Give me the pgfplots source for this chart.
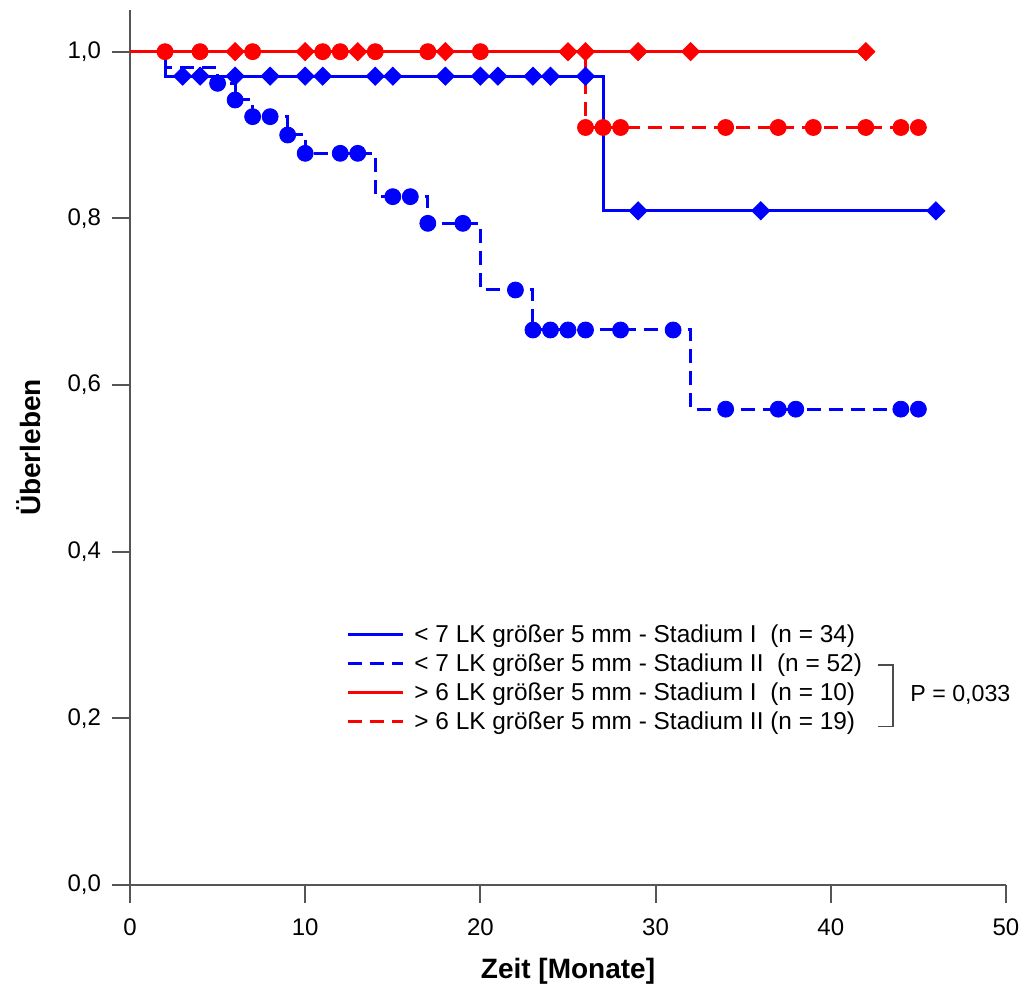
\documentclass[border=0pt]{standalone}
\usepackage{fontspec}
\setmainfont{Liberation Sans}
\usepackage{pgfplots}
\pgfplotsset{compat=1.18}
\definecolor{kblue}{RGB}{0,0,255}
\definecolor{kred}{RGB}{255,0,0}
\definecolor{axgray}{RGB}{85,85,85}
\begin{document}
\begin{tikzpicture}
\path[use as bounding box] (-65pt,-56pt) rectangle (447.5pt,442.5pt);
\begin{axis}[
  scale only axis, width=438pt, height=437.5pt,
  xmin=0, xmax=50, ymin=0, ymax=1.05,
  axis lines=left,
  axis line style={axgray, line width=1pt, -},
  clip=false,
  xtick={0,10,20,30,40,50},
  ytick={0,0.2,0.4,0.6,0.8,1},
  tick align=outside,
  major tick length=9pt,
  tick style={axgray, line width=1pt},
  /pgf/number format/assume math mode=true,
  x tick label style={font=\fontsize{12}{14}\selectfont, yshift=-4.5pt},
  y tick label style={font=\fontsize{12}{14}\selectfont, xshift=-2pt,
     /pgf/number format/.cd, fixed, fixed zerofill, precision=1, use comma, /tikz/.cd},
  xlabel={Zeit [Monate]},
  ylabel={Überleben},
  xlabel style={font=\fontsize{14}{16}\bfseries\selectfont, at={(axis description cs:0.5,-0.0983)}, anchor=center},
  ylabel style={font=\fontsize{14}{16}\bfseries\selectfont, at={(axis description cs:-0.1153,0.5)}, anchor=center},
  legend cell align=left,
  legend style={at={(axis cs:12.33,0.318)}, anchor=north west, draw=none, fill=none,
     font=\fontsize{12.2}{14}\selectfont, row sep=0.2pt, inner sep=0pt},
  legend image code/.code={\draw[#1] (0pt,0pt) -- (27.5pt,0pt); \path (30.5pt,0pt);},
  kmline/.style={const plot, line width=1.5pt, mark=none},
  kmdash/.style={dash pattern=on 7pt off 4pt},
  circ/.style={only marks, mark=*, mark size=4pt},
  diam/.style={only marks, mark=square*, mark size=3.2pt, mark options={rotate=45}},
]
% < 7 LK, Stadium I
\addplot[kmline, kblue] coordinates {(0,1) (2,0.9706) (27,0.809) (46,0.809)};
\addlegendentry{< 7 LK größer 5 mm - Stadium I~~(n = 34)}
% < 7 LK, Stadium II
\addplot[kmline, kmdash, kblue] coordinates {(0,1) (2,0.981) (5,0.962) (6,0.942) (7,0.922) (9,0.900) (10,0.878) (14,0.826) (17,0.794) (20,0.714) (23,0.666) (32,0.571) (45,0.571)};
\addlegendentry{< 7 LK größer 5 mm - Stadium II~~(n = 52)}
% > 6 LK, Stadium I
\addplot[kmline, kred] coordinates {(0,1) (42,1)};
\addlegendentry{> 6 LK größer 5 mm - Stadium I~~(n = 10)}
% > 6 LK, Stadium II
\addplot[kmline, kmdash, kred] coordinates {(0,1) (26,0.909) (45,0.909)};
\addlegendentry{> 6 LK größer 5 mm - Stadium II (n = 19)}
% censor marks
\addplot[diam, kblue, forget plot] coordinates {(3,0.9706) (4,0.9706) (6,0.9706) (8,0.9706) (10,0.9706) (11,0.9706) (14,0.9706) (15,0.9706) (18,0.9706) (20,0.9706) (21,0.9706) (23,0.9706) (24,0.9706) (26,0.9706) (29,0.809) (36,0.809) (46,0.809)};
\addplot[circ, kblue, forget plot] coordinates {(5,0.962) (6,0.942) (7,0.922) (8,0.922) (9,0.900) (10,0.878) (12,0.878) (13,0.878) (15,0.826) (16,0.826) (17,0.794) (19,0.794) (22,0.714) (23,0.666) (24,0.666) (25,0.666) (26,0.666) (28,0.666) (31,0.666) (34,0.571) (37,0.571) (38,0.571) (44,0.571) (45,0.571)};
\addplot[kmline, kmdash, kred, forget plot] coordinates {(0,1) (26,0.909) (45,0.909)};
\addplot[kmline, kred, forget plot] coordinates {(0,1) (42,1)};
\addplot[circ, kred, forget plot] coordinates {(2,1) (4,1) (7,1) (11,1) (12,1) (14,1) (17,1) (20,1) (26,0.909) (27,0.909) (28,0.909) (34,0.909) (37,0.909) (39,0.909) (42,0.909) (44,0.909) (45,0.909)};
\addplot[diam, kred, forget plot] coordinates {(6,1) (10,1) (13,1) (18,1) (25,1) (26,1) (29,1) (32,1) (42,1)};
% log-rank bracket and p-value
\draw[black!70, line width=0.8pt] (axis cs:42.69,0.264) -- (axis cs:43.55,0.264) -- (axis cs:43.55,0.190) -- (axis cs:42.69,0.190);
\node[anchor=west, inner sep=0pt, font=\fontsize{11.6}{13}\selectfont] at (axis cs:44.52,0.228) {P = 0,033};
\end{axis}
\end{tikzpicture}
\end{document}
